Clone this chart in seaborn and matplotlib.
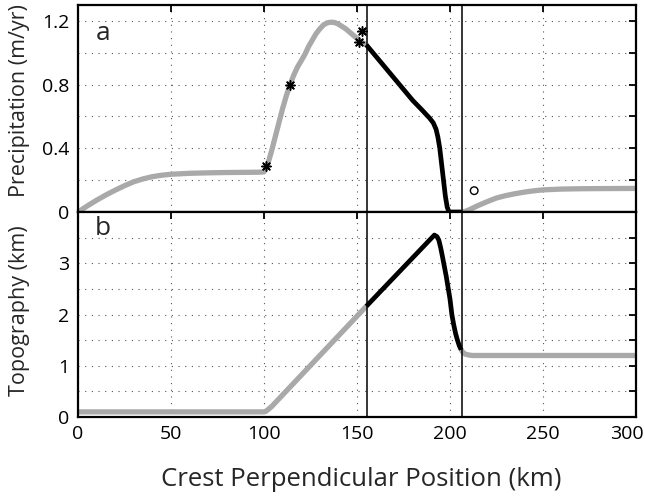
import numpy as np
import pandas as pd
import seaborn as sns
import matplotlib.pyplot as plt
from matplotlib.transforms import ScaledTranslation

# precipitation profile (m/yr)
precip_x_west = [0, 5, 10, 15, 20, 25, 30, 35, 40, 45, 50, 60, 70, 80, 90, 98, 100,
                 102, 104, 106, 108, 110, 112, 114, 116, 118, 120, 122, 124, 126, 128,
                 130, 132, 134, 136, 138, 140, 142, 144, 146, 148, 150, 152, 155]
precip_y_west = [0, 0.038, 0.074, 0.107, 0.137, 0.165, 0.19, 0.208, 0.222, 0.231, 0.237,
                 0.243, 0.246, 0.248, 0.249, 0.25, 0.252, 0.30, 0.38, 0.47, 0.56, 0.65,
                 0.73, 0.80, 0.86, 0.91, 0.95, 0.99, 1.04, 1.08, 1.12, 1.15, 1.175,
                 1.188, 1.192, 1.19, 1.18, 1.165, 1.15, 1.13, 1.11, 1.09, 1.07, 1.05]
precip_x_zone = [155, 160, 165, 170, 175, 180, 185, 189, 191, 192.5, 193.5, 194.5,
                 195.5, 196.5, 197.5, 198.5, 199.5, 206]
precip_y_zone = [1.05, 0.98, 0.91, 0.84, 0.77, 0.70, 0.64, 0.59, 0.56, 0.52, 0.47,
                 0.40, 0.30, 0.20, 0.10, 0.03, 0, 0]
precip_x_east = [206, 208, 210, 215, 220, 225, 230, 235, 240, 245, 250, 260, 270, 280, 300]
precip_y_east = [0, 0.003, 0.012, 0.04, 0.065, 0.088, 0.103, 0.115, 0.125, 0.133,
                 0.139, 0.144, 0.146, 0.147, 0.148]

# topography profile (km)
topo_x_west = [0, 50, 100, 101, 102, 104, 155]
topo_y_west = [0.1, 0.1, 0.1, 0.11, 0.14, 0.2, 2.16]
topo_x_zone = [155, 175, 191.6, 193, 194, 195, 196, 197, 198, 199, 200, 201, 202,
               203, 204, 205, 206]
topo_y_zone = [2.16, 2.92, 3.55, 3.52, 3.45, 3.3, 3.12, 2.93, 2.74, 2.52, 2.3, 2.0,
               1.8, 1.63, 1.5, 1.39, 1.31]
topo_x_east = [206, 207, 208, 210, 212, 250, 300]
topo_y_east = [1.31, 1.26, 1.23, 1.21, 1.2, 1.2, 1.2]

# markers
star_x = [101, 114, 152.5, 151.3]
star_y = [0.29, 0.80, 1.137, 1.066]
circle_x = [213]
circle_y = [0.134]

zone_edges = [155.2, 206.3]

sns.set_style("white")
plt.rcParams["font.family"] = ["Open Sans", "DejaVu Sans"]

GRAY = "#a9a9a9"
fig = plt.figure(figsize=(6.45, 4.96), dpi=100)
ax1 = fig.add_axes([78 / 645, 1 - 212 / 496, 558 / 645, 207 / 496])
ax2 = fig.add_axes([78 / 645, 1 - 417 / 496, 558 / 645, 205 / 496])


def draw(ax, x, y, color, lw):
	sns.lineplot(x=x, y=y, ax=ax, color=color, linewidth=lw, sort=False,
				 estimator=None, solid_capstyle="butt", clip_on=False)


draw(ax1, precip_x_west, precip_y_west, GRAY, 3.8)
draw(ax1, precip_x_east, precip_y_east, GRAY, 3.8)
draw(ax1, precip_x_zone, precip_y_zone, "black", 3.4)
sns.scatterplot(x=star_x, y=star_y, ax=ax1, marker=(8, 2, 0), s=45, color="black",
				linewidth=1.1, edgecolor="black", zorder=5)
sns.scatterplot(x=circle_x, y=circle_y, ax=ax1, marker="o", s=30, facecolor="none",
				edgecolor="black", linewidth=1.0, zorder=5)

draw(ax2, topo_x_west, topo_y_west, GRAY, 3.8)
draw(ax2, topo_x_east, topo_y_east, GRAY, 3.8)
draw(ax2, topo_x_zone, topo_y_zone, "black", 3.4)

for ax in (ax1, ax2):
	for xe in zone_edges:
		ax.axvline(xe, color="black", linewidth=1.1, zorder=3)
	ax.set_xlim(0, 300)
	ax.set_xticks(np.arange(0, 301, 50))
	ax.grid(True, linestyle=(0, (1, 5)), color="#555555", linewidth=0.8)
	ax.tick_params(direction="in", length=5, width=1.3, top=True, right=True,
				   labelsize=14, pad=6, colors="black")
	for s in ax.spines.values():
		s.set_linewidth(1.6)
		s.set_color("black")
	ax.set_xlabel("")
	ax.set_ylabel("")

ax1.set_ylim(0, 1.3)
ax1.set_yticks(np.arange(0, 1.21, 0.2))
ax1.set_yticklabels(["0", "", "0.4", "", "0.8", "", "1.2"])
ax1.set_xticklabels([])

ax2.set_ylim(0, 4)
ax2.set_yticks(np.arange(0, 3.6, 0.5))
ax2.set_yticklabels(["0", "", "1", "", "2", "", "3", ""])

# keep the last x label inside the canvas
last = ax2.get_xticklabels()[-1]
last.set_horizontalalignment("right")
last.set_transform(last.get_transform() + ScaledTranslation(0.08, 0, fig.dpi_scale_trans))

ax1.text(0.045, 0.86, "a", transform=ax1.transAxes, fontsize=19, ha="center", va="center")
ax2.text(0.045, 0.92, "b", transform=ax2.transAxes, fontsize=19, ha="center", va="center")

fig.text(20 / 645, 1 - 101 / 496, "Precipitation (m/yr)", rotation=90, fontsize=15.5,
		 ha="center", va="center")
fig.text(20 / 645, 1 - 311 / 496, "Topography (km)", rotation=90, fontsize=15.5,
		 ha="center", va="center")
fig.text(361 / 645, 1 - 480 / 496, "Crest Perpendicular Position (km)", fontsize=18.5,
		 ha="center", va="center")

fig.savefig("out.png", dpi=100)
